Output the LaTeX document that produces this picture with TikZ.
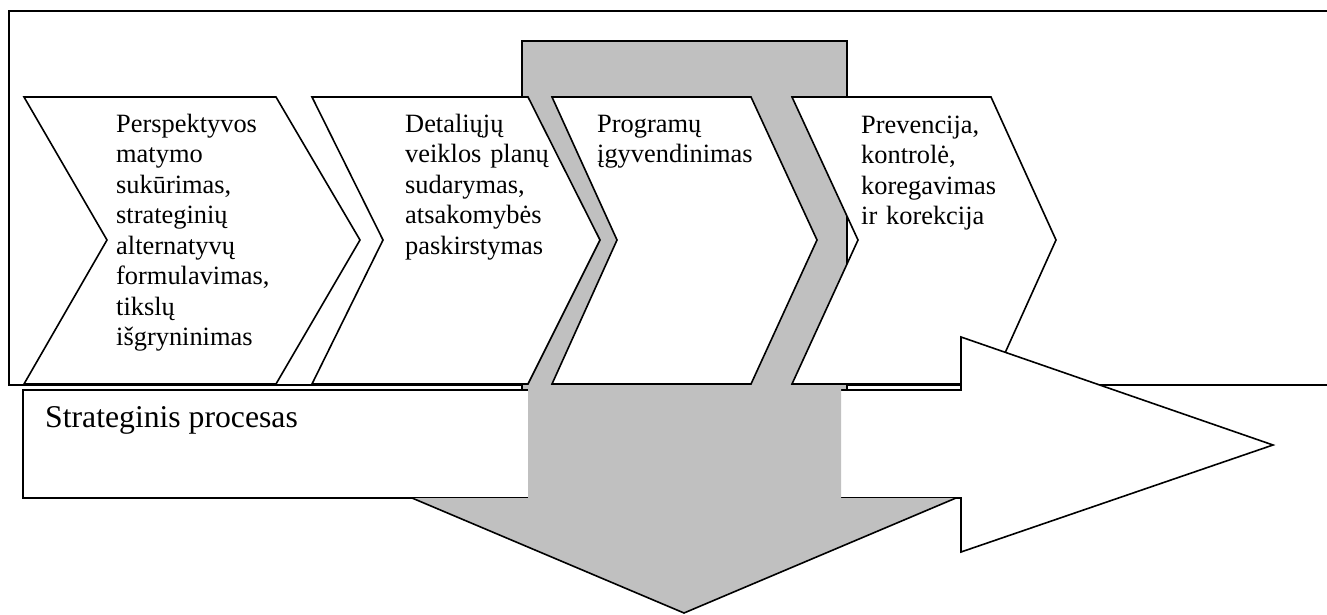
\documentclass[tikz,border=0pt]{standalone}
\usepackage{fontspec}
\setmainfont{Liberation Serif}
\definecolor{silver}{RGB}{192,192,192}
\begin{document}
\begin{tikzpicture}[x=1pt,y=-1pt,
  frame/.style={draw=black,line width=2.5pt},
  chev/.style={draw=black,fill=white,line width=1.6pt,line join=miter},
  greyshape/.style={fill=silver,draw=black,line width=1.6pt},
  lbl/.style={anchor=base west,inner sep=0pt,align=left,text width=190pt,
    font=\fontsize{26.4}{30.5}\selectfont},
  biglbl/.style={anchor=base west,inner sep=0pt,font=\fontsize{31.7}{36}\selectfont}]
\useasboundingbox (0,0) rectangle (1327,615);
% outer frame (open on the right)
\draw[frame] (1327,11) -- (9,11) -- (9,385) -- (1327,385);
% upper grey band behind the chevrons
\draw[greyshape] (522,41) rectangle (847,391);
% chevrons
\draw[chev] (24,97) -- (276,97) -- (360,240) -- (276,384) -- (24,384) -- (107,240) -- cycle;
\draw[chev] (312,97) -- (528,97) -- (600,240) -- (528,384) -- (312,384) -- (383,240) -- cycle;
\draw[chev] (552,97) -- (751,97) -- (817,240) -- (751,384) -- (552,384) -- (617,240) -- cycle;
\draw[chev] (792,97) -- (991,97) -- (1056,240) -- (991,384) -- (792,384) -- (858,240) -- cycle;
% chevron texts
\node[lbl] (t1) at (116,132) {Perspektyvos\\matymo\\sukūrimas,\\strateginių\\alternatyvų\\formulavimas,\\tikslų\\išgryninimas};
\node[lbl] (t2) at (405,132) {Detaliųjų\\veiklos planų\\sudarymas,\\atsakomybės\\paskirstymas};
\node[lbl] (t3) at (597,132) {Programų\\įgyvendinimas};
\node[lbl] (t4) at (861,133) {Prevencija,\\kontrolė,\\koregavimas\\ir korekcija};
% white process arrow
\draw[chev] (23,390) -- (961,390) -- (961,337) -- (1273,445) -- (961,552) -- (961,498) -- (23,498) -- cycle;
\node[biglbl] (proc) at (45,427) {Strateginis procesas};
% lower grey down arrow, on top of the white arrow
\fill[silver] (528,386) -- (841,386) -- (841,498) -- (956,498) -- (684,613) -- (412,498) -- (528,498) -- cycle;
\draw[line width=1.6pt,line join=miter] (412,498) -- (684,613) -- (956,498);
\end{tikzpicture}
\end{document}
